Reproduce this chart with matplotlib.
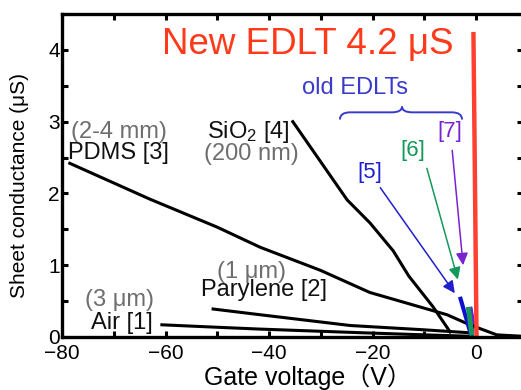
import matplotlib
matplotlib.use("Agg")
import matplotlib.pyplot as plt
from matplotlib.path import Path
from matplotlib.patches import PathPatch, Polygon
from matplotlib.ticker import MultipleLocator

plt.rcParams['font.family'] = ['Liberation Sans', 'Noto Sans CJK JP', 'DejaVu Sans']
plt.rcParams['mathtext.fontset'] = 'custom'
plt.rcParams['mathtext.rm'] = 'Liberation Sans'
plt.rcParams['mathtext.default'] = 'regular'

# sheet conductance (uS) vs gate voltage (V)
air_v = [-60.7, -51.4, -41.7, -22.4, -10.0, -1.0]
air_g = [0.17, 0.14, 0.11, 0.06, 0.03, 0.01]

parylene_v = [-50.8, -41.7, -24.3, -10.0, -1.5]
parylene_g = [0.39, 0.31, 0.16, 0.10, 0.06]

pdms_v = [-78.5, -63.0, -50.0, -41.7, -30.1, -20.5, -5.6, -1.2, 4.0, 9.0]
pdms_g = [2.42, 1.92, 1.53, 1.25, 0.93, 0.62, 0.31, 0.17, 0.03, 0.01]

sio2_v = [-35.4, -24.9, -20.5, -16.0, -13.0, -8.3, -5.0]
sio2_g = [3.00, 1.91, 1.59, 1.20, 0.85, 0.42, 0.07]

new_v = [0.1, -0.5]
new_g = [0.0, 4.25]

edlt5_v = [-3.1, -0.85]
edlt5_g = [0.56, 0.0]
edlt6_v = [-1.5, -0.8]
edlt6_g = [0.42, 0.02]
edlt7_v = [-1.5, -0.8, -0.3, -0.5, -0.9]
edlt7_g = [0.38, 0.42, 0.20, 0.0, 0.0]

# arrow tails / tips and label positions for the old EDLT refs
arrow_tail = {"[5]": (-18.5, 2.08), "[6]": (-9.5, 2.35), "[7]": (-4.6, 2.60)}
arrow_tip = {"[5]": (-4.1, 0.61), "[6]": (-3.5, 0.80), "[7]": (-2.5, 1.00)}
ref_pos = {"[5]": (-20.5, 2.29), "[6]": (-12.2, 2.60), "[7]": (-5.0, 2.86)}
ref_col = {"[5]": "#1f1fcf", "[6]": "#13995a", "[7]": "#7a22d0"}

fig = plt.figure(figsize=(5.21, 3.90), dpi=100)
ax = fig.add_axes([62 / 521, 53 / 390, (522.6 - 62) / 521, 323 / 390])
ax.set_xlim(-80, 9)
ax.set_ylim(0, 4.5)

lw = 2.2
ax.plot(air_v, air_g, color="black", lw=lw)
ax.plot(parylene_v, parylene_g, color="black", lw=lw)
ax.plot(pdms_v, pdms_g, color="black", lw=lw)
ax.plot(sio2_v, sio2_g, color="black", lw=lw)

ax.plot(edlt5_v, edlt5_g, color="#1010d0", lw=3, solid_capstyle="butt")
ax.plot(edlt6_v, edlt6_g, color="#13995a", lw=3.5, solid_capstyle="butt")
ax.add_patch(Polygon(list(zip(edlt7_v, edlt7_g)), closed=True,
                     facecolor="#6a1fd0", edgecolor="#6a1fd0", lw=0.8))
ax.plot(new_v, new_g, color="#ff4030", lw=3.2, solid_capstyle="butt")

for key in arrow_tail:
    ax.annotate("", xy=arrow_tip[key], xytext=arrow_tail[key],
                arrowprops=dict(arrowstyle="-|>", color=ref_col[key], lw=1.1,
                                mutation_scale=18, shrinkA=0, shrinkB=0))
    ax.text(*ref_pos[key], key, color=ref_col[key], fontsize=16,
            ha="center", va="center")

# curly brace over the old EDLTs
x0, x1, xm = -26.3, -2.7, -14.3
y0, yf, yt = 3.03, 3.13, 3.21
r = 2.0
verts = [(x0, y0), (x0, yf), (x0 + r, yf), (xm - r, yf), (xm, yf), (xm, yt),
         (xm, yf), (xm + r, yf), (x1 - r, yf), (x1, yf), (x1, y0)]
codes = [Path.MOVETO, Path.CURVE3, Path.CURVE3, Path.LINETO, Path.CURVE3, Path.CURVE3,
         Path.CURVE3, Path.CURVE3, Path.LINETO, Path.CURVE3, Path.CURVE3]
ax.add_patch(PathPatch(Path(verts, codes), facecolor="none", edgecolor="#3a3acc", lw=1.4))
ax.text(-23.4, 3.47, "old EDLTs", color="#3a3acc", fontsize=17, ha="center", va="center")

ax.text(-32.5, 4.07, "New EDLT 4.2 μS", color="#ff3a1a", fontsize=26.5,
        ha="center", va="center")

gray = "#6e6e6e"
fs = 17
ax.text(-69, 2.86, "(2-4 mm)", color=gray, fontsize=fs, ha="center", va="center")
ax.text(-69, 2.56, "PDMS [3]", color="#111111", fontsize=fs, ha="center", va="center")
ax.text(-44, 2.86, "SiO$_2$ [4]", color="#111111", fontsize=fs, ha="center", va="center")
ax.text(-43.5, 2.55, "(200 nm)", color=gray, fontsize=fs, ha="center", va="center")
ax.text(-43.4, 0.91, "(1 μm)", color=gray, fontsize=fs, ha="center", va="center")
ax.text(-41, 0.66, "Parylene [2]", color="#111111", fontsize=fs, ha="center", va="center")
ax.text(-68.8, 0.52, "(3 μm)", color=gray, fontsize=fs, ha="center", va="center")
ax.text(-68.4, 0.20, "Air [1]", color="#111111", fontsize=fs, ha="center", va="center")

ax.xaxis.set_major_locator(MultipleLocator(20))
ax.xaxis.set_minor_locator(MultipleLocator(10))
ax.yaxis.set_major_locator(MultipleLocator(1))
ax.yaxis.set_minor_locator(MultipleLocator(0.5))
ax.tick_params(which="both", direction="in", top=True, right=True,
               length=4.5, width=2.2, labelsize=15)
ax.tick_params(axis="x", pad=5)
ax.tick_params(axis="y", pad=1.5)
for s in ax.spines.values():
    s.set_linewidth(2.4)
ax.set_xticks([-80, -60, -40, -20, 0])
ax.set_xticklabels(["\u221280", "\u221260", "\u221240", "\u221220", "0"])

fig.text(308 / 521, 1 - 377 / 390, "Gate voltage（V）", fontsize=18,
         ha="center", va="center")
fig.text(20 / 521, 1 - 186 / 390, "Sheet conductance (μS)", fontsize=15,
         rotation=90, ha="center", va="center")

fig.savefig("out.png", dpi=100)
